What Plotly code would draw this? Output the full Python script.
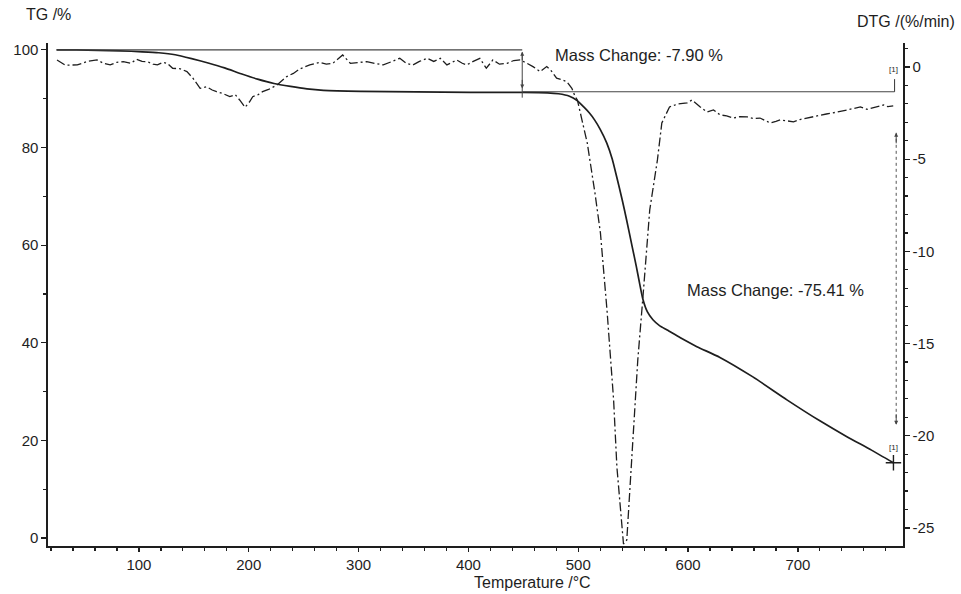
import plotly.graph_objects as go

# ---------------- data ----------------
tg_temp = [25, 43, 63, 83, 103, 118, 133, 148, 163, 178, 193, 208, 223, 238, 253, 268,
           302, 352, 402, 449, 472, 482, 492, 499, 505, 510, 515, 520, 526, 531, 535, 540,
           544, 549, 553, 556, 559, 563, 568, 574, 581, 593, 608, 629, 659, 690, 720, 745,
           767, 787]
tg_mass = [100, 100, 99.9, 99.8, 99.6, 99.4, 99.0, 98.2, 97.3, 96.3, 95.1, 94.0, 93.1, 92.5,
           92.0, 91.7, 91.5, 91.4, 91.3, 91.3, 91.2, 91.0, 90.5, 89.6, 88.3, 87.1, 85.6, 83.7,
           80.9, 77.6, 74.0, 69.3, 65.2, 59.8, 55.5, 52.0, 48.8, 46.3, 44.7, 43.5, 42.6, 41.0,
           39.2, 37.0, 33.0, 28.3, 24.0, 20.7, 18.0, 15.4]

dtg_temp = [25.4, 32.9, 43.9, 52.9, 61.8, 67.8, 73.8, 79.8, 85.8, 92.8, 97.8, 102.8, 107.8,
            112.8, 116.8, 121.8, 125.8, 130.7, 137.7, 143.7, 149.2, 155.7, 161.7, 166.7,
            170.7, 176.7, 182.7, 187.7, 191.7, 196.6, 200.6, 203.6, 208.6, 212.6, 218.6,
            225.6, 234.6, 240.6, 246.6, 255.6, 264.6, 270.6, 276.5, 285.5, 292.5, 299.5,
            307.5, 314.5, 322.5, 330.5, 337.5, 343.5, 349.4, 355.4, 362.4, 368.4, 374.4,
            380.4, 385.4, 389.4, 394.4, 398.4, 404.4, 410.4, 416.3, 422.3, 428.3, 435.3,
            441.3, 447.3, 453.3, 458.8, 465.3, 471.3, 475.3, 480.3, 485.3, 489.7, 494.2,
            497.2, 499.2, 508.2, 515.2, 520.2, 526.2, 529.2, 532.2, 535.2, 539.9, 541.2,
            544.2, 547.2, 551.7, 554.2, 559.2, 565.1, 572.1, 576.1, 583.1, 591.1, 599.1,
            603.6, 611.1, 617.1, 623.1, 629.1, 635.1, 641.1, 647.1, 654.0, 660.0, 665.5,
            670.0, 675.0, 680.0, 684.0, 690.0, 696.0, 701.9, 707.9, 713.9, 719.9, 725.9,
            731.9, 737.9, 744.9, 750.9, 756.9, 762.9, 767.9, 772.9, 777.9, 781.9, 786.8]
dtg_rate = [0.38, 0.1, 0.11, 0.3, 0.38, 0.2, 0.11, 0.25, 0.29, 0.2, 0.42, 0.3, 0.29, 0.15,
            0.11, 0.25, 0.2, -0.07, -0.1, -0.25, -0.61, -1.16, -1.07, -1.25, -1.34, -1.45,
            -1.61, -1.5, -1.79, -2.19, -1.9, -1.61, -1.5, -1.34, -1.2, -0.98, -0.52, -0.35,
            -0.1, 0.11, 0.25, 0.15, 0.2, 0.65, 0.2, 0.25, 0.29, 0.2, 0.11, 0.3, 0.47, 0.2,
            0.11, 0.3, 0.47, 0.3, 0.47, 0.11, 0.25, 0.38, 0.2, 0.11, 0.3, 0.47, -0.07, 0.38,
            0.15, 0.2, 0.35, 0.38, 0.2, 0.02, -0.25, 0.02, -0.2, -0.61, -0.7, -0.8, -1.16,
            -1.61, -1.79, -4.12, -6.83, -9.0, -13.2, -15.9, -18.06, -21.7, -25.3, -25.87,
            -25.65, -22.56, -18.06, -15.9, -12.26, -7.75, -5.04, -3.04, -2.17, -2.0, -1.95,
            -1.79, -2.17, -2.44, -2.33, -2.6, -2.65, -2.77, -2.7, -2.71, -2.8, -2.77, -2.9,
            -3.04, -2.95, -2.87, -2.92, -2.98, -2.85, -2.77, -2.7, -2.6, -2.55, -2.49, -2.4,
            -2.33, -2.25, -2.17, -2.3, -2.22, -2.1, -2.06, -2.15, -2.11]

x_ticks = [100, 200, 300, 400, 500, 600, 700]
tg_ticks = [0, 20, 40, 60, 80, 100]
dtg_ticks = [0, -5, -10, -15, -20, -25]
dtg_ticklabels = ["0", "-5", "-10", "-15", "-20", "-25"]

# mass-change evaluation
step1_temp, step1_top, step1_bottom = 449, 100.0, 91.4
step2_end_temp, step2_top, step2_bottom = 788, 91.4, 15.4
mass_change_1 = "Mass Change: -7.90 %"
mass_change_2 = "Mass Change: -75.41 %"

INK = "#1e1e1e"
FONT = "Liberation Sans, Arial, sans-serif"

fig = go.Figure()

fig.add_trace(go.Scatter(x=tg_temp, y=tg_mass, mode="lines", name="TG",
                         line=dict(color=INK, width=1.7, shape="spline", smoothing=0.6),
                         yaxis="y", hoverinfo="skip"))
fig.add_trace(go.Scatter(x=dtg_temp, y=dtg_rate, mode="lines", name="DTG",
                         line=dict(color=INK, width=1.3, dash="9px,3px,2px,3px"),
                         yaxis="y2", hoverinfo="skip"))
fig.add_trace(go.Scatter(x=[tg_temp[-1]], y=[tg_mass[-1]], mode="markers",
                         marker=dict(symbol="cross-thin", size=11, line=dict(color=INK, width=1.4)),
                         yaxis="y", hoverinfo="skip"))

shapes = [
    dict(type="line", xref="x", yref="y", x0=tg_temp[0], x1=step1_temp, y0=step1_top, y1=step1_top,
         line=dict(color="#444", width=1.1)),
    dict(type="line", xref="x", yref="y", x0=step1_temp, x1=step1_temp, y0=step1_top - 0.5, y1=step1_bottom - 1.2,
         line=dict(color="#444", width=1)),
    dict(type="line", xref="x", yref="y", x0=step1_temp, x1=step2_end_temp, y0=step2_top, y1=step2_top,
         line=dict(color="#444", width=1.1)),
    dict(type="line", xref="x", yref="y", x0=step2_end_temp, x1=step2_end_temp, y0=step2_top, y1=step2_top + 2.6,
         line=dict(color="#444", width=1.1)),
    dict(type="line", xref="x", yref="y", x0=step2_end_temp + 1.5, x1=step2_end_temp + 1.5, y0=83.0, y1=23.2,
         line=dict(color="#555", width=1, dash="dot")),
]

annotations = [
    dict(x=step1_temp, y=step1_top - 0.4, xref="x", yref="y", ax=0, ay=10, text="",
         showarrow=True, arrowhead=2, arrowsize=0.8, arrowwidth=1, arrowcolor="#444"),
    dict(x=step1_temp, y=step1_bottom + 0.7, xref="x", yref="y", ax=0, ay=-10, text="",
         showarrow=True, arrowhead=2, arrowsize=0.8, arrowwidth=1, arrowcolor="#444"),
    dict(x=step2_end_temp + 1.5, y=83.0, xref="x", yref="y", ax=0, ay=12, text="",
         showarrow=True, arrowhead=2, arrowsize=0.8, arrowwidth=1, arrowcolor="#444"),
    dict(x=step2_end_temp + 1.5, y=23.2, xref="x", yref="y", ax=0, ay=-12, text="",
         showarrow=True, arrowhead=2, arrowsize=0.8, arrowwidth=1, arrowcolor="#444"),
    dict(x=477, y=99.0, xref="x", yref="y", text=mass_change_1, showarrow=False,
         xanchor="left", yanchor="middle", font=dict(family=FONT, size=16.5, color=INK)),
    dict(x=597, y=50.8, xref="x", yref="y", text=mass_change_2, showarrow=False,
         xanchor="left", yanchor="middle", font=dict(family=FONT, size=16.5, color=INK)),
    dict(x=step2_end_temp - 1, y=96.0, xref="x", yref="y", text="[1]", showarrow=False,
         xanchor="center", yanchor="middle", font=dict(family=FONT, size=8, color=INK)),
    dict(x=step2_end_temp - 1, y=18.6, xref="x", yref="y", text="[1]", showarrow=False,
         xanchor="center", yanchor="middle", font=dict(family=FONT, size=8, color=INK)),
    # axis titles
    dict(x=0.0, y=1.056, xref="paper", yref="paper", text="TG /%", showarrow=False,
         xanchor="center", yanchor="middle", font=dict(family=FONT, size=16, color=INK)),
    dict(x=1.003, y=1.042, xref="paper", yref="paper", text="DTG /(%/min)", showarrow=False,
         xanchor="center", yanchor="middle", font=dict(family=FONT, size=16, color=INK)),
    dict(x=0.567, y=-0.072, xref="paper", yref="paper", text="Temperature /°C", showarrow=False,
         xanchor="center", yanchor="middle", font=dict(family=FONT, size=16, color=INK)),
]

fig.update_layout(
    width=961, height=594,
    margin=dict(l=48, r=58, t=43, b=48),
    paper_bgcolor="white", plot_bgcolor="white",
    showlegend=False,
    font=dict(family=FONT, size=15, color=INK),
    shapes=shapes, annotations=annotations,
    xaxis=dict(range=[17.2, 795.7], tickvals=x_ticks, ticks="outside", ticklen=4, tickwidth=1.2,
               tickcolor=INK, showline=True, linecolor=INK, linewidth=1.6, showgrid=False,
               zeroline=False, tickfont=dict(family=FONT, size=15, color=INK),
               minor=dict(tick0=0, dtick=20, ticks="outside", ticklen=3, tickcolor=INK)),
    yaxis=dict(range=[-1.64, 101.4], tickvals=tg_ticks, ticks="outside", ticklen=5, tickwidth=1.2,
               tickcolor=INK, showline=True, linecolor=INK, linewidth=1.6, showgrid=False,
               zeroline=False, tickfont=dict(family=FONT, size=15, color=INK),
               minor=dict(tick0=0, dtick=10, ticks="outside", ticklen=3, tickcolor=INK)),
    yaxis2=dict(range=[-25.98, 1.30], overlaying="y", side="right", tickvals=dtg_ticks,
                ticktext=dtg_ticklabels, ticks="outside", ticklen=5, tickwidth=1.2,
                tickcolor=INK, showline=True, linecolor=INK, linewidth=1.6, showgrid=False,
                zeroline=False, tickfont=dict(family=FONT, size=15, color=INK),
                minor=dict(tick0=0, dtick=1, ticks="outside", ticklen=3, tickcolor=INK)),
)

# remove the browser's default 8 px body margin so the figure fills the window exactly
fig.write_html("out.html",
               config={"displayModeBar": False, "staticPlot": True},
               post_script="document.body.style.margin='0';document.body.style.overflow='hidden';")
